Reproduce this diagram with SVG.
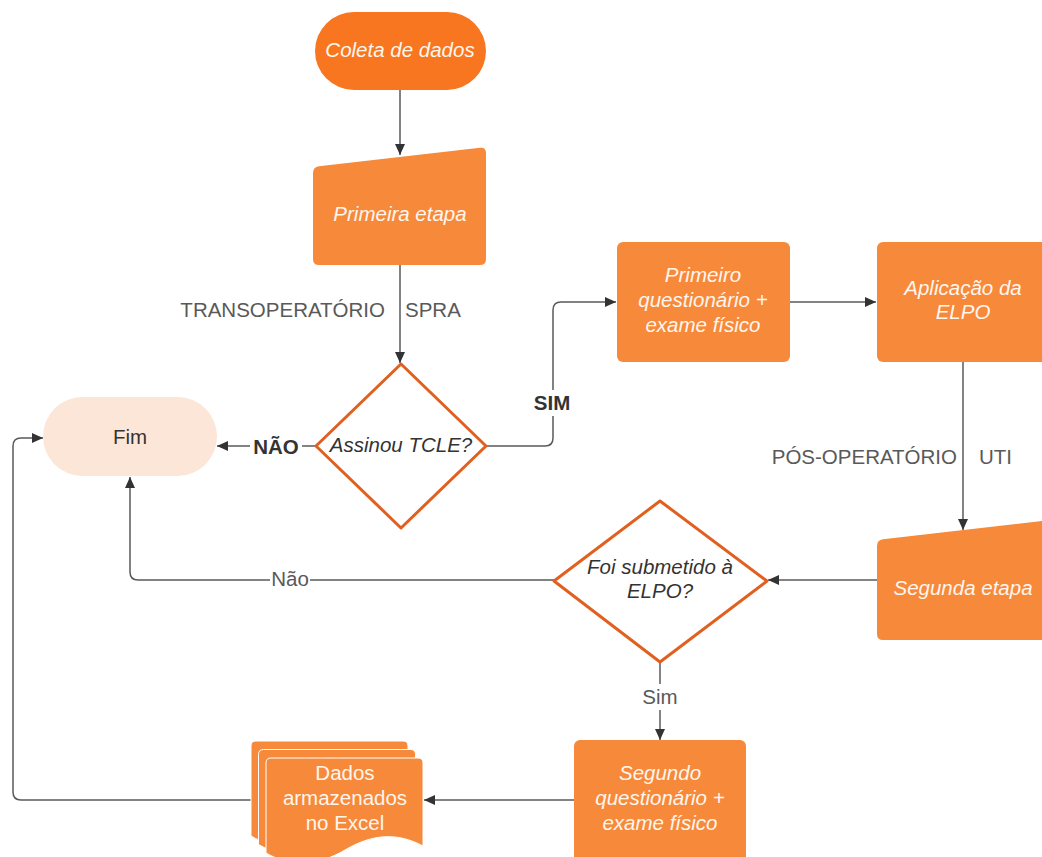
<svg xmlns="http://www.w3.org/2000/svg" width="1042" height="857" viewBox="0 0 1042 857">
<style>
  .node { fill: #F7893A; }
  .start { fill: #F7761F; }
  .dia { fill: #FFFFFF; stroke: #E2601F; stroke-width: 3; stroke-linejoin: round; }
  .wt { font-family: "Liberation Sans", Arial, sans-serif; font-size: 20.5px; fill: #FFF6EE; text-anchor: middle; font-style: italic; }
  .wn { font-family: "Liberation Sans", Arial, sans-serif; font-size: 20.5px; fill: #FFF6EE; text-anchor: middle; }
  .dt { font-family: "Liberation Sans", Arial, sans-serif; font-size: 20.5px; fill: #333333; text-anchor: middle; font-style: italic; }
  .lbl { font-family: "Liberation Sans", Arial, sans-serif; font-size: 20.5px; fill: #595959; }
  .bold { font-family: "Liberation Sans", Arial, sans-serif; font-size: 20.5px; fill: #333333; font-weight: bold; text-anchor: middle; }
  .conn { fill: none; stroke: #5a5a5a; stroke-width: 1.5; }
</style>
<defs>
  <marker id="arr" markerUnits="userSpaceOnUse" markerWidth="12" markerHeight="10" refX="11" refY="5" orient="auto">
    <path d="M0,0 L11,5 L0,10 Z" fill="#333333"/>
  </marker>
  <path id="doc" d="M271,758 H418 Q423,758 423,763 V846 C397,832 372,834 345,850 C318,866 290,867 266,853 V763 Q266,758 271,758 Z"/>
</defs>
<rect width="1042" height="857" fill="#FFFFFF"/>

<g id="connectors">
  <path class="conn" d="M400,90 V155" marker-end="url(#arr)"/>
  <path class="conn" d="M400,265 V363" marker-end="url(#arr)"/>
  <path class="conn" d="M486,446 H545 Q553,446 553,438 V310 Q553,302 561,302 H616" marker-end="url(#arr)"/>
  <path class="conn" d="M316,446 H217" marker-end="url(#arr)"/>
  <path class="conn" d="M790,302 H876" marker-end="url(#arr)"/>
  <path class="conn" d="M963,362 V530" marker-end="url(#arr)"/>
  <path class="conn" d="M877,580 H768" marker-end="url(#arr)"/>
  <path class="conn" d="M554,580 H138 Q130,580 130,572 V477" marker-end="url(#arr)"/>
  <path class="conn" d="M660,662 V740" marker-end="url(#arr)"/>
  <path class="conn" d="M574,800 H424" marker-end="url(#arr)"/>
  <path class="conn" d="M251,800 H21 Q13,800 13,792 V446 Q13,438 21,438 H43" marker-end="url(#arr)"/>
  <rect x="250" y="434" width="52" height="26" fill="#FFFFFF"/>
  <text class="bold" x="276" y="454">NÃO</text>
  <rect x="532" y="390" width="42" height="26" fill="#FFFFFF"/>
  <text class="bold" x="552" y="410">SIM</text>
  <rect x="270" y="567" width="40" height="26" fill="#FFFFFF"/>
  <text class="lbl" x="290" y="586" text-anchor="middle">Não</text>
  <rect x="642" y="684" width="36" height="26" fill="#FFFFFF"/>
  <text class="lbl" x="660" y="704" text-anchor="middle">Sim</text>
  <text class="lbl" x="385" y="317" text-anchor="end">TRANSOPERATÓRIO</text>
  <text class="lbl" x="405" y="317">SPRA</text>
  <text class="lbl" x="957" y="464" text-anchor="end">PÓS-OPERATÓRIO</text>
  <text class="lbl" x="979" y="464">UTI</text>
</g>

<g id="coleta">
  <rect class="start" x="315" y="12" width="171" height="78" rx="39" ry="39"/>
  <text class="wt" x="400" y="57">Coleta de dados</text>
</g>

<g id="primeira-etapa">
  <path class="node" d="M313,173 Q313,167 319,166.3 L480,147.7 Q486,147 486,153 L486,259 Q486,265 480,265 L319,265 Q313,265 313,259 Z"/>
  <text class="wt" x="400" y="221">Primeira etapa</text>
</g>

<g id="assinou">
  <polygon class="dia" points="401,364 486,446 401,528 316,446"/>
  <text class="dt" x="401" y="452">Assinou TCLE?</text>
</g>

<g id="fim">
  <rect x="43" y="397" width="174" height="79" rx="39.5" ry="39.5" fill="#FCE6D8"/>
  <text x="130" y="444" font-family="Liberation Sans, Arial, sans-serif" font-size="20.5" fill="#333333" text-anchor="middle">Fim</text>
</g>

<g id="primeiro-questionario">
  <rect class="node" x="617" y="242" width="173" height="120" rx="6"/>
  <text class="wt" x="703" y="282">Primeiro</text>
  <text class="wt" x="703" y="307">questionário +</text>
  <text class="wt" x="703" y="332">exame físico</text>
</g>

<g id="aplicacao-elpo">
  <rect class="node" x="877" y="242" width="175" height="120" rx="6"/>
  <text class="wt" x="963" y="295">Aplicação da</text>
  <text class="wt" x="963" y="319">ELPO</text>
</g>

<g id="segunda-etapa">
  <path class="node" d="M877,546 Q877,540 883,539.3 L1044,520.7 Q1050,520 1050,526 L1050,634 Q1050,640 1044,640 L883,640 Q877,640 877,634 Z"/>
  <text class="wt" x="963" y="595">Segunda etapa</text>
</g>

<g id="foi-submetido">
  <polygon class="dia" points="660,501 767,581 660,662 554,581"/>
  <text class="dt" x="660" y="574">Foi submetido à</text>
  <text class="dt" x="660" y="598">ELPO?</text>
</g>

<g id="segundo-questionario">
  <rect class="node" x="574" y="740" width="172" height="130" rx="6"/>
  <text class="wt" x="660" y="780">Segundo</text>
  <text class="wt" x="660" y="805">questionário +</text>
  <text class="wt" x="660" y="830">exame físico</text>
</g>

<g id="dados-excel">
  <use href="#doc" transform="translate(-15,-17)" fill="#F7893A" stroke="#FFFFFF" stroke-width="1"/>
  <use href="#doc" transform="translate(-7.5,-8.5)" fill="#F7893A" stroke="#FFFFFF" stroke-width="1"/>
  <use href="#doc" fill="#F7893A" stroke="#FFFFFF" stroke-width="1"/>
  <text class="wn" x="345" y="780">Dados</text>
  <text class="wn" x="345" y="805">armazenados</text>
  <text class="wn" x="345" y="830">no Excel</text>
</g>
</svg>
